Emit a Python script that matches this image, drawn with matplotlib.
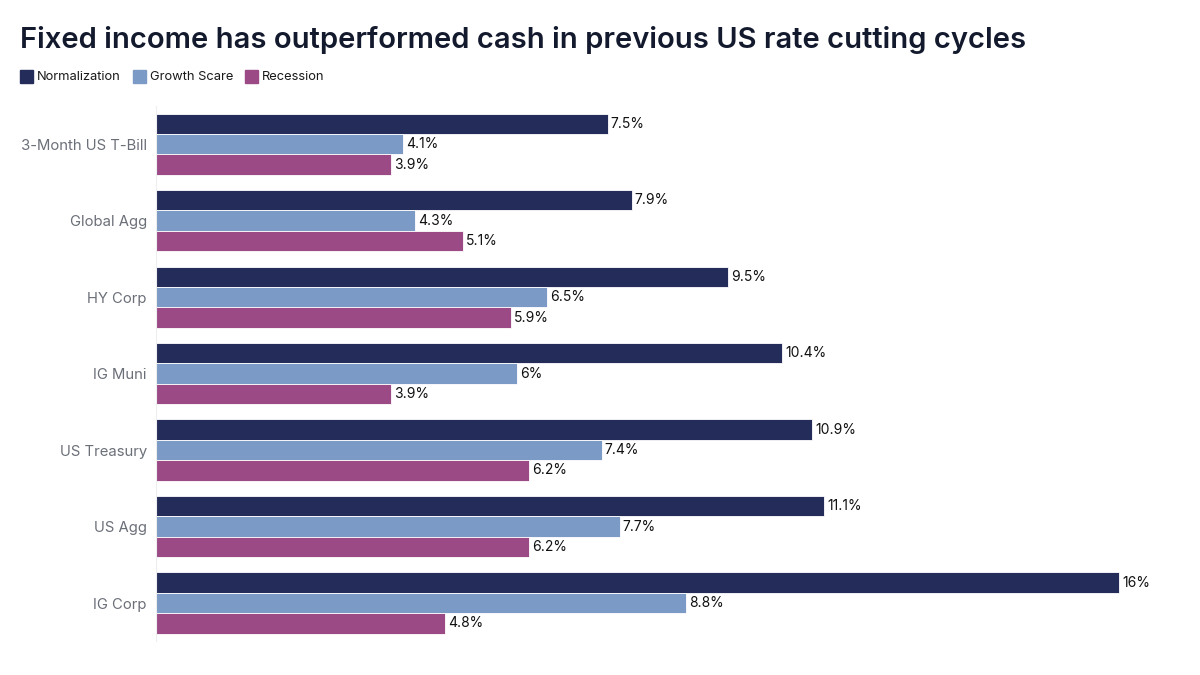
import numpy as np
import matplotlib.pyplot as plt
from matplotlib.patches import Rectangle

categories = ['3-Month US T-Bill', 'Global Agg', 'HY Corp', 'IG Muni', 'US Treasury', 'US Agg', 'IG Corp']
normalization = [7.5, 7.9, 9.5, 10.4, 10.9, 11.1, 16]
growth_scare = [4.1, 4.3, 6.5, 6, 7.4, 7.7, 8.8]
recession = [3.9, 5.1, 5.9, 3.9, 6.2, 6.2, 4.8]
labels_norm = ['7.5%', '7.9%', '9.5%', '10.4%', '10.9%', '11.1%', '16%']
labels_growth = ['4.1%', '4.3%', '6.5%', '6%', '7.4%', '7.7%', '8.8%']
labels_rec = ['3.9%', '5.1%', '5.9%', '3.9%', '6.2%', '6.2%', '4.8%']

series = [
    ('Normalization', normalization, labels_norm, '#242c5a'),
    ('Growth Scare', growth_scare, labels_growth, '#7b9ac5'),
    ('Recession', recession, labels_rec, '#9b4a86'),
]

plt.rcParams['font.family'] = ['Inter', 'DejaVu Sans']

fig = plt.figure(figsize=(12, 6.75), dpi=100)
ax = fig.add_axes([0.13, 0.05, 0.853, 0.793])

y = np.arange(len(categories))
h = 0.267
for k, (name, vals, labs, color) in enumerate(series):
    pos = y + (k - 1) * h
    bars = ax.barh(pos, vals, height=h, color=color, edgecolor='white', linewidth=0.6, label=name)
    for b, lab in zip(bars, labs):
        ax.text(b.get_width() + 0.05, b.get_y() + b.get_height() / 2, lab,
                va='center', ha='left', fontsize=10, color='#111111')

ax.set_xlim(0, 17)
ax.set_ylim(len(categories) - 0.5, -0.5)
ax.set_yticks(y)
ax.set_yticklabels(categories, fontsize=10.7, color='#6b6f78')
ax.tick_params(axis='y', length=0, pad=6.5)
ax.set_xticks([])
for s in ['top', 'right', 'bottom']:
    ax.spines[s].set_visible(False)
ax.spines['left'].set_color('#eeeeee')
ax.spines['left'].set_linewidth(0.8)

fig.text(0.017, 0.94, 'Fixed income has outperformed cash in previous US rate cutting cycles',
         fontsize=21, fontweight='semibold', color='#141a2e', va='center', ha='left')

# legend row
lx = 20
for name, _, _, color in series:
    fig.patches.append(Rectangle((lx / 1200, 1 - 83 / 675), 13 / 1200, 13 / 675,
                                 transform=fig.transFigure, color=color))
    t = fig.text((lx + 17) / 1200, 1 - 77 / 675, name, fontsize=9.3, color='#1a1a1a',
                 va='center', ha='left')
    fig.canvas.draw()
    bb = t.get_window_extent()
    lx = bb.x1 + 12

fig.savefig('out.png', dpi=100)
